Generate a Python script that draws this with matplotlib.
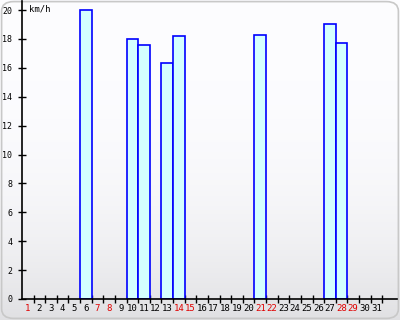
import matplotlib
matplotlib.use("Agg")
import matplotlib.pyplot as plt
import numpy as np
from matplotlib.patches import FancyBboxPatch

days = list(range(1, 32))
speed_days = [6, 10, 11, 13, 14, 21, 27, 28]
speed_vals = [20.0, 18.0, 17.6, 16.3, 18.2, 18.3, 19.0, 17.7]
weekend_days = [1, 7, 8, 14, 15, 21, 22, 28, 29]
y_ticks = list(range(0, 21, 2))
unit_label = "km/h"

W, H = 400, 320
fig = plt.figure(figsize=(W / 100, H / 100), dpi=100)

# background gradient
bg = fig.add_axes([0, 0, 1, 1])
bg.set_axis_off()
top = np.array([0.99, 0.99, 1.0])
bot = np.array([0.88, 0.88, 0.89])
t = np.linspace(0, 1, 320)[:, None]
t = t ** 3.0
grad = top[None, :] * (1 - t) + bot[None, :] * t
grad = np.repeat(grad[:, None, :], 2, axis=1)
bg.imshow(grad, aspect="auto", extent=[0, 1, 0, 1], origin="upper")
bg.add_patch(FancyBboxPatch((0.004, 0.005), 0.992, 0.99,
                            boxstyle="round,pad=0,rounding_size=0.03",
                            fc="none", ec="#c8c8c8", lw=1.2,
                            transform=bg.transAxes))
bg.set_xlim(0, 1)
bg.set_ylim(0, 1)

# plot axes: x from px 22 to 397, y 0 at px 299, 20 at px 10
px_per_day = 11.62
px_per_unit = 14.45
x0, x1 = 22, 397
ybot, ytop = 299, 1
ax = fig.add_axes([x0 / W, 1 - ybot / H, (x1 - x0) / W, (ybot - ytop) / H])
ax.set_facecolor("none")
ax.set_xlim(0, (x1 - x0) / px_per_day)
ax.set_ylim(0, (ybot - ytop) / px_per_unit)

ax.bar([d - 1 for d in speed_days], speed_vals, width=1.0, align="edge",
       color="#d4ffff", edgecolor="#0000ff", linewidth=1.2, zorder=2)

for s in ["top", "right"]:
    ax.spines[s].set_visible(False)
for s in ["left", "bottom"]:
    ax.spines[s].set_color("black")
    ax.spines[s].set_linewidth(1.2)

ax.set_yticks(y_ticks)
ax.set_yticklabels([str(v) for v in y_ticks], fontsize=6, family="DejaVu Sans Mono")
ax.tick_params(axis="y", direction="inout", length=6, width=1, pad=4, colors="black")

ax.set_xticks(list(range(1, 32)))
ax.set_xticklabels([])
ax.tick_params(axis="x", direction="inout", length=6, width=1, colors="black")
for d in days:
    ax.text(d - 0.5, -0.35, str(d), ha="center", va="top", fontsize=6.5,
            family="DejaVu Sans Mono",
            color="#e00000" if d in weekend_days else "black",
            transform=ax.transData, clip_on=False)

ax.text(0.6, 20.1, unit_label, ha="left", va="center", fontsize=6.5,
        family="DejaVu Sans Mono")

fig.savefig("out.png", dpi=100)
